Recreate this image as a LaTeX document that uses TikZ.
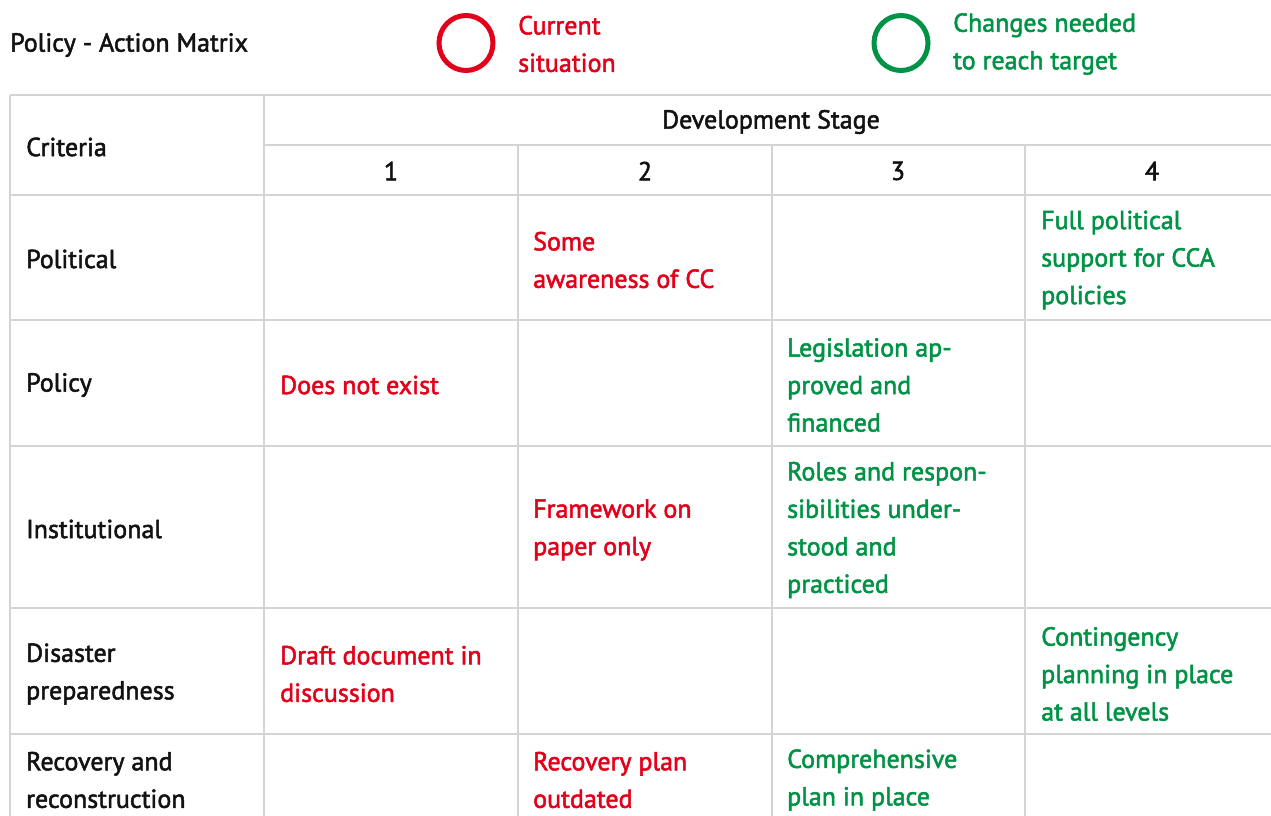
\documentclass[tikz,border=0pt]{standalone}
\usepackage{fontspec}
\setmainfont{PT Sans}[FakeBold=2]
\usetikzlibrary{positioning}
\definecolor{curred}{HTML}{E2001A}
\definecolor{tgtgreen}{HTML}{009245}
\definecolor{gridgray}{HTML}{D4D4D4}
\begin{document}
\begin{tikzpicture}[x=1pt, y=-1pt,
	txt/.style={inner sep=0, anchor=west, align=left, font=\fontsize{26}{37.5}\selectfont},
	crit/.style={txt, text=black!93},
	cur/.style={txt, text=curred},
	tgt/.style={txt, text=tgtgreen},
	hd/.style={txt, anchor=center, align=center, text=black!93}]
	\useasboundingbox (0,0) rectangle (1271,816);
	% legend
	\node[crit] (title) at (10,45) {Policy - Action Matrix};
	\draw[curred, line width=5pt] (466,43) ellipse (27 and 27.5);
	\node[cur] (curlab) at (518,44) {Current\\situation};
	\draw[tgtgreen, line width=5pt] (901,43) ellipse (27 and 27.5);
	\node[tgt] (tgtlab) at (953,44) {Changes needed\\to reach target};
	% grid
	\begin{scope}[gridgray, line width=2.6pt]
	\foreach \y in {95,195,320,446,608,734} \draw (10,\y) -- (1271,\y);
	\draw (264,145) -- (1271,145);
	\foreach \x in {10,264} \draw (\x,95) -- (\x,816);
	\foreach \x in {518,772,1025} \draw (\x,145) -- (\x,816);
	\end{scope}
	% header
	\node[crit] (criteria) at (26,147) {Criteria};
	\node[hd] (stage) at (771,122) {Development Stage};
	\foreach \n/\x in {1/391,2/645,3/898,4/1152}
		\node[hd] (num\n) at (\x,171) {\n};
	% criteria column
	\node[crit] (political) at (26,259) {Political};
	\node[crit] (policy) at (26,385) {Policy};
	\node[crit] (institutional) at (26,529) {Institutional};
	\node[crit] (disaster) at (26,674) {Disaster\\preparedness};
	\node[crit] (recovery) at (26,780) {Recovery and\\reconstruction};
	% current situation
	\node[cur] (polcur) at (533,260) {Some\\awareness of CC};
	\node[cur] (plcur) at (280,385) {Does not exist};
	\node[cur] (inscur) at (533,530) {Framework on\\paper only};
	\node[cur] (discur) at (280,674) {Draft document in\\discussion};
	\node[cur] (reccur) at (533,780) {Recovery plan\\outdated};
	% changes needed
	\node[tgt] (poltgt) at (1041,260) {Full political\\support for CCA\\policies};
	\node[tgt] (pltgt) at (787,385) {Legislation ap-\\proved and\\financed};
	\node[tgt] (instgt) at (787,530) {Roles and respon-\\sibilities under-\\stood and\\practiced};
	\node[tgt] (distgt) at (1041,674) {Contingency\\planning in place\\at all levels};
	\node[tgt] (rectgt) at (787,780) {Comprehensive\\plan in place};
\end{tikzpicture}
\end{document}
